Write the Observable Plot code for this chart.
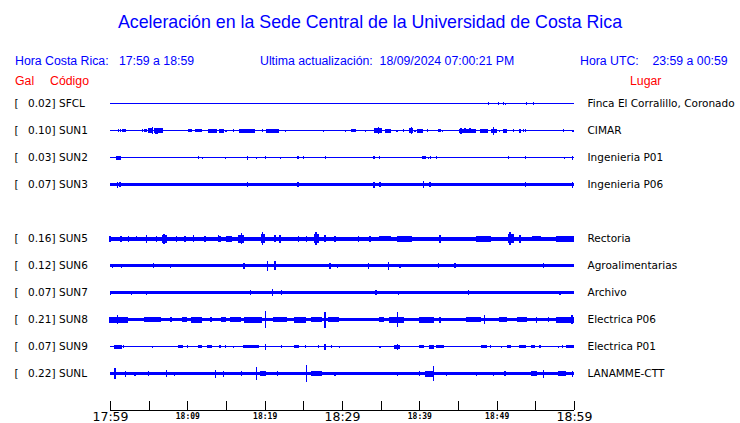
<!DOCTYPE html>
<html>
<head>
<meta charset="utf-8">
<script src="https://cdn.jsdelivr.net/npm/d3@7"></script>
<script src="https://cdn.jsdelivr.net/npm/@observablehq/plot@0.6"></script>
<style>
  html, body { margin: 0; padding: 0; background: #fff; }
  #wrap { position: relative; width: 740px; height: 423px; overflow: hidden; }
  #head { position: relative; width: 740px; height: 90px; font-family: "Liberation Sans", Arial, sans-serif; }
  #head span { position: absolute; white-space: pre; }
  .t { font-size: 17.8px; color: #0000ff; top: 12px; left: 0; width: 740px; text-align: center; line-height: 20px; }
  .h { font-size: 12.3px; color: #0000ff; top: 54px; line-height: 14px; }
  .r { font-size: 12.3px; color: #ff0000; top: 74px; line-height: 14px; }
  #chart svg { display: block; }
</style>
</head>
<body>
<div id="wrap">
  <div id="head">
    <span class="t">Aceleración en la Sede Central de la Universidad de Costa Rica</span>
    <span class="h" style="left:15px">Hora Costa Rica:   17:59 a 18:59</span>
    <span class="h" style="left:260px">Ultima actualización:  18/09/2024 07:00:21 PM</span>
    <span class="h" style="left:580px">Hora UTC:    23:59 a 00:59</span>
    <span class="r" style="left:15px">Gal</span>
    <span class="r" style="left:50px">Código</span>
    <span class="r" style="left:630px">Lugar</span>
  </div>
  <div id="chart"></div>
</div>
<script>
// ---- Data ----
// rows (null = empty slot, no SUN4 trace)
const stationCodes = ["SFCL", "SUN1", "SUN2", "SUN3", null, "SUN5", "SUN6", "SUN7", "SUN8", "SUN9", "SUNL"];
const peakGal = [0.02, 0.10, 0.03, 0.07, null, 0.16, 0.12, 0.07, 0.21, 0.07, 0.22];
const placeNames = ["Finca El Corralillo, Coronado", "CIMAR", "Ingenieria P01", "Ingenieria P06", null,
  "Rectoria", "Agroalimentarias", "Archivo", "Electrica P06", "Electrica P01", "LANAMME-CTT"];
// background noise half-amplitude (relative units)
const baseAmp = [0.5, 0.6, 0.6, 1.5, null, 2, 1.3, 1.3, 1.7, 0.7, 1.7];

// bursts: [start minute, end minute, half-amplitude] (minutes after 17:59)
const bSFCL = [[48.92,48.92,1.2],[50.21,50.21,1.2],[50.86,50.86,1.2],[51.12,51.12,1],[53.83,53.83,1.2],[54.74,54.74,1.2]];
const bSUN1 = [[1.07,1.07,1.5],[1.38,1.38,1.5],[1.64,1.98,1.5],[4.23,4.23,1.5],[4.53,4.53,1.5],[4.75,4.75,1.5],
  [5.04,5.52,2.5],[5.47,5.47,3.5],[5.73,6.81,2.5],[5.95,5.95,3],[6.12,6.12,3],[10.13,10.47,1.5],[11.03,11.77,1.5],
  [12.8,13.8,2],[14.22,14.65,2],[15.0,15.0,1],[15.94,15.94,1.5],[16.72,18.71,2],[19.69,19.69,1.5],[20.26,20.91,2],
  [21.04,21.76,2],[22.67,22.67,1],[27.58,27.58,1],[30.43,30.43,1],[31.29,31.68,1.2],[33.01,33.01,1],
  [34.18,35.13,2.5],[34.69,34.69,3.5],[35.65,36.21,2],[37.11,37.11,1],[37.93,37.93,1.5],[38.7,39.14,2.5],
  [38.95,38.95,3.5],[39.44,39.44,1],[39.74,40.44,2],[41.08,41.08,1.5],[42.45,42.67,1.5],[42.97,42.97,1],
  [45.26,47.2,2],[45.39,45.39,3],[45.91,45.91,2.5],[46.55,46.55,2.5],[47.97,48.79,2],[49.4,49.91,2],[49.62,49.62,4],
  [50.34,50.34,1],[50.95,51.21,2],[52.15,52.15,1.5],[52.93,53.11,2],[53.44,53.44,1.5],[53.7,53.7,1.5],
  [58.62,58.62,1.5],[59.87,59.87,1]];
const bSUN2 = [[0.87,1.38,2],[11.47,11.47,1.5],[11.94,11.94,1],[14.91,14.91,1],[17.81,17.81,2],[18.92,18.92,1],
  [20.08,20.08,1.5],[22.02,22.02,1],[24.31,24.31,1.5],[25.0,25.0,1.5],[27.84,27.84,1.5],[34.14,34.14,1.5],
  [34.82,34.82,1.5],[40.44,40.73,1.8],[41.16,41.16,1],[41.47,41.47,1.8],[42.19,42.19,1.5],[51.51,51.51,1.5],
  [53.7,53.7,1.5],[58.75,58.75,1],[59.83,59.83,2]];
const bSUN3 = [[0.94,0.94,3],[1.29,1.29,2.5],[17.81,17.81,2.5],[24.31,24.31,2.5],[34.14,34.14,3],[34.91,34.91,2.5],
  [40.51,40.51,3.5],[41.38,41.38,2.5],[53.7,53.7,2.5],[59.83,59.83,3]];
const bSUN5 = [[0.0,0.0,3],[1.42,1.42,3],[2.37,2.37,3],[3.45,3.45,2.5],[4.75,4.75,4],[6.04,6.04,3],[6.81,7.33,4],
  [6.98,6.98,5],[8.63,8.63,3],[9.7,9.7,3],[10.77,10.77,3.5],[12.28,12.28,3],[14.0,14.0,3.5],[14.22,14.22,3],
  [15.09,15.65,3],[16.59,17.24,4],[17.03,17.03,5.5],[19.62,19.95,4.5],[19.75,19.75,6.5],[21.34,21.34,3.5],
  [21.98,21.98,4],[24.35,24.35,3],[25.44,25.44,3],[26.51,26.94,4.5],[26.64,26.64,6.5],[27.8,27.8,3.5],
  [29.1,29.1,3],[32.11,32.11,3],[33.62,33.62,3],[34.91,36.21,2.7],[37.24,39.01,3],[42.67,42.67,4],
  [47.42,49.14,3],[51.51,52.15,4.5],[51.72,51.72,6.5],[53.02,53.02,4],[54.7,55.6,2.7],[57.76,59.91,3]];
const bSUN6 = [[0.35,0.35,2],[1.51,1.51,2],[5.6,5.6,2.5],[7.85,7.85,2],[17.33,17.33,3],[20.34,20.34,5],
  [21.34,21.34,4.5],[28.45,28.45,3],[29.39,29.39,2],[33.4,33.4,3],[35.99,35.99,4],[37.5,37.5,2],
  [42.45,42.45,2.5],[44.61,44.61,2.5],[56.03,56.03,2.5]];
const bSUN7 = [[0.09,0.09,2],[2.81,2.81,2],[4.75,4.75,2],[18.19,18.19,2.5],[21.04,21.04,3.5],[22.2,22.2,2.5],
  [34.4,34.4,2.5],[37.28,37.28,2],[46.33,46.33,2.5],[58.19,58.19,2]];
const bSUN8 = [[0,2.29,3],[1.0,1.0,4.5],[4.44,6.47,2.7],[7.89,7.89,2.5],[9.35,9.92,2.7],[10.56,11.86,3],
  [13.06,13.06,2.5],[14.44,14.96,2.7],[15.65,16.81,2.5],[17.46,19.62,3],[20.13,20.13,8.3],[21.12,22.85,2.7],
  [23.83,25.22,3],[26.08,27.37,2.7],[27.8,27.8,8],[28.23,29.52,2.7],[34.91,35.34,2.7],[36.21,37.93,3],
  [37.15,37.15,7.7],[40.09,41.81,3],[42.67,42.67,3],[46.12,47.84,2.7],[48.4,48.4,4.5],[50.43,51.3,2.7],
  [52.76,53.88,2.7],[55.18,55.18,3],[56.68,56.68,2.5],[57.76,59.91,3],[59.74,59.74,4.5]];
const bSUN9 = [[0.65,1.42,2],[1.72,1.72,1.5],[5.47,5.47,1],[8.92,9.35,1.2],[10.0,10.0,1.5],[11.42,11.86,1.5],
  [12.63,13.06,1.2],[14.22,14.22,1.2],[14.96,14.96,1.5],[15.94,15.94,1],[17.24,19.18,1.5],[20.13,20.13,3],
  [22.2,22.2,1.5],[23.83,24.35,1.5],[25.31,25.31,1.5],[26.94,26.94,1.5],[27.8,27.8,3],[28.67,28.67,1.5],
  [29.65,29.65,1],[34.91,34.91,1],[36.85,37.41,2],[37.15,37.15,3],[40.09,40.51,1.5],[41.29,41.81,2],
  [42.24,43.1,1.5],[48.07,48.71,1.5],[49.23,49.23,1.5],[50.65,50.65,1],[51.43,51.72,1.5],[53.02,53.66,1.5],
  [54.53,54.83,1.5],[55.6,55.6,1.5],[57.97,57.97,1],[58.54,58.54,1.5],[59.06,59.91,1.5]];
const bSUNL = [[0.56,0.74,5.7],[2.03,2.03,3],[3.23,3.23,2],[4.95,4.95,2.5],[7.33,7.33,3.5],[8.31,8.31,2],
  [13.66,13.66,4],[14.65,14.65,3],[17.03,17.03,2.5],[18.97,18.97,6.7],[19.53,20.04,2.5],[21.69,21.69,2.5],
  [25.44,25.44,8.3],[26.08,27.37,2.5],[29.1,29.1,2],[37.15,37.15,2],[40.0,40.0,2.5],[40.86,41.81,3],
  [41.81,41.81,7.5],[43.54,43.54,2],[47.42,47.42,2],[49.57,49.57,2],[51.08,51.08,2.5],[54.53,55.18,2.5],
  [56.03,56.03,4],[57.97,58.84,2.7],[59.83,59.83,3]];
const burstLists = [bSFCL, bSUN1, bSUN2, bSUN3, null, bSUN5, bSUN6, bSUN7, bSUN8, bSUN9, bSUNL];

// time axis (minutes after 17:59)
const timeSpan = [0, 60];
const tickMinutes = [0, 5, 10, 15, 20, 25, 30, 35, 40, 45, 50, 55, 60];
const majorTicks = [0, 30, 60];
const majorLabels = ["17:59", "18:29", "18:59"];
const minorTicks = [10, 20, 40, 50];
const minorLabels = ["18:09", "18:19", "18:39", "18:49"];

// ---- Build ----
const ampPerRow = 27;   // relative amplitude units per row spacing
const stations = stationCodes.map((code, row) => ({
  code, row, peak: peakGal[row], place: placeNames[row], base: baseAmp[row]
})).filter(d => d.code);
const bursts = stations.flatMap(s => burstLists[s.row].map(([m1, m2, h]) => ({row: s.row, m1, m2, h})));
const axisRow = stationCodes.length - 1 + 4 / 3;
const tickLen = 1 / 3;

const blue = "#0000ff";
const chart = Plot.plot({
  width: 740,
  height: 333,
  marginLeft: 110,
  marginRight: 166,
  marginTop: 0,
  marginBottom: 0,
  x: {domain: timeSpan, axis: null},
  y: {domain: [0, stationCodes.length - 1], range: [13.5, 283.5], axis: null},
  marks: [
    // background noise band
    Plot.rect(stations, {x1: timeSpan[0], x2: timeSpan[1],
      y1: d => d.row - d.base / ampPerRow, y2: d => d.row + d.base / ampPerRow,
      fill: blue, shapeRendering: "crispEdges"}),
    // bursts / spikes
    Plot.rect(bursts, {x1: "m1", x2: "m2",
      y1: d => d.row - d.h / ampPerRow, y2: d => d.row + d.h / ampPerRow,
      insetLeft: -0.6, insetRight: -0.6, fill: blue, shapeRendering: "crispEdges"}),
    // left labels
    Plot.text(stations, {y: "row", text: () => "[", frameAnchor: "left", dx: -96, textAnchor: "start",
      fontFamily: "DejaVu Sans", fontSize: 10.5, fill: "black"}),
    Plot.text(stations, {y: "row", text: d => d.peak.toFixed(2) + "]", frameAnchor: "left", dx: -55, textAnchor: "end",
      fontFamily: "DejaVu Sans", fontSize: 10.5, fill: "black"}),
    Plot.text(stations, {y: "row", text: "code", frameAnchor: "left", dx: -51.5, textAnchor: "start",
      fontFamily: "DejaVu Sans", fontSize: 10.5, fill: "black"}),
    // right labels
    Plot.text(stations, {y: "row", text: "place", frameAnchor: "right", dx: 13, textAnchor: "start",
      fontFamily: "DejaVu Sans", fontSize: 10.5, fill: "black"}),
    // time axis
    Plot.ruleY([axisRow], {x1: timeSpan[0], x2: timeSpan[1], stroke: "black", shapeRendering: "crispEdges"}),
    Plot.ruleX(tickMinutes, {x: d => d, y1: axisRow - tickLen, y2: axisRow, stroke: "black", shapeRendering: "crispEdges"}),
    Plot.text(majorTicks, {x: d => d, y: axisRow, text: (d, i) => majorLabels[i], dy: 7,
      fontFamily: "DejaVu Sans", fontSize: 12.5, fill: "black"}),
    Plot.text(minorTicks, {x: d => d, y: axisRow, text: (d, i) => minorLabels[i], dy: 6,
      fontFamily: "DejaVu Sans Mono", fontSize: 8, fontWeight: "bold", fill: "black"})
  ]
});
document.getElementById("chart").append(chart);
</script>
</body>
</html>
